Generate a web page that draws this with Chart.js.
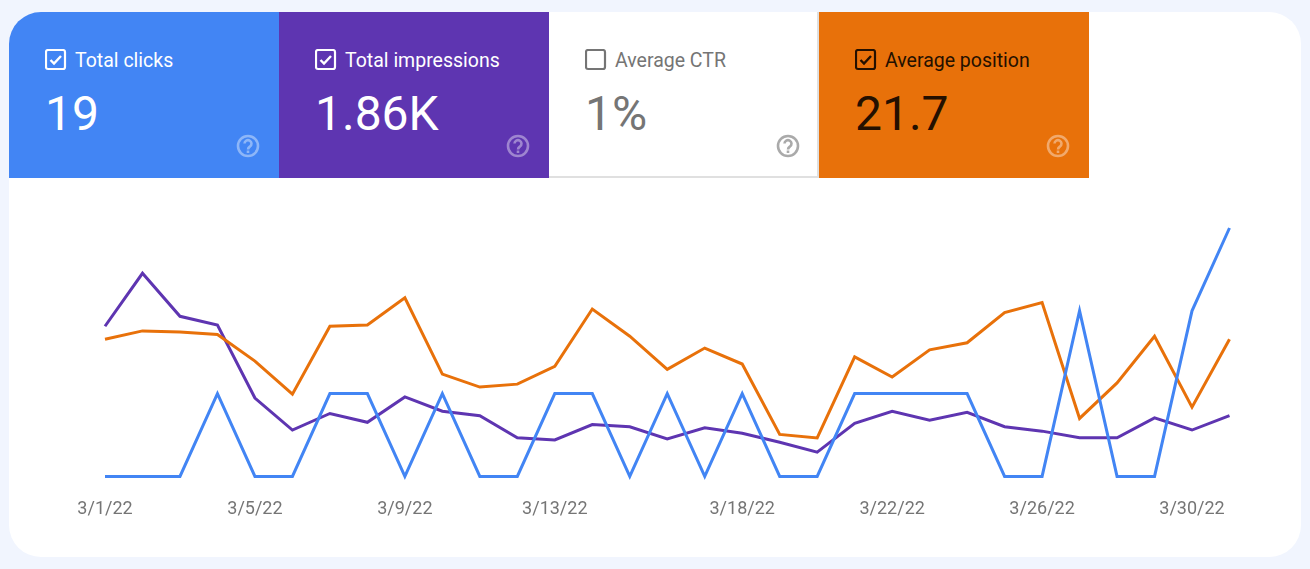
<!DOCTYPE html>
<html>
<head>
<meta charset="utf-8">
<script src="https://cdn.jsdelivr.net/npm/chart.js@4"></script>
<style>
  html, body { margin: 0; padding: 0; background: #f1f5fe; }
  body { width: 1310px; height: 569px; overflow: hidden; position: relative; font-family: Roboto, sans-serif; }
  .card { position: absolute; left: 9px; top: 12px; width: 1292px; height: 545px; background: #fff; border-radius: 32px; overflow: hidden; }
  .tile { position: absolute; top: 0; width: 270px; height: 166px; box-sizing: border-box; }
  .tile svg { position: absolute; display: block; }
  .tile .check { left: 36px; top: 37px; }
  .tile .help { left: 227px; top: 122px; }
  .tile .name { position: absolute; left: 66px; top: 37px; font-size: 19.5px; line-height: 24px; white-space: nowrap; }
  .tile .num { position: absolute; left: 36px; top: 74px; font-size: 48px; line-height: 56px; white-space: nowrap; }
  canvas { position: absolute; left: 0; top: 166px; }
</style>
</head>
<body>
<div class="card">
  <div class="tile" style="left:0;background:#4285f4;color:#fff">
    <svg class="check" width="22" height="22"><rect x="1" y="1" width="19" height="19" rx="2" fill="none" stroke="#fff" stroke-width="2.2"/><path d="M5.5 11l3.5 3.5 7-7.5" fill="none" stroke="#fff" stroke-width="2.4"/></svg>
    <div class="name">Total clicks</div><div class="num">19</div>
    <svg class="help" width="24" height="24"><circle cx="12" cy="12" r="10" fill="none" stroke="#fff" stroke-opacity=".4" stroke-width="2.6"/><path d="M8.5 9.5a3.5 3.5 0 1 1 5.5 3c-1.2.9-2 1.4-2 3M12 16.5v2.5" fill="none" stroke="#fff" stroke-opacity=".4" stroke-width="2.6"/></svg>
  </div>
  <div class="tile" style="left:270px;background:#5e35b1;color:#fff">
    <svg class="check" width="22" height="22"><rect x="1" y="1" width="19" height="19" rx="2" fill="none" stroke="#fff" stroke-width="2.2"/><path d="M5.5 11l3.5 3.5 7-7.5" fill="none" stroke="#fff" stroke-width="2.4"/></svg>
    <div class="name">Total impressions</div><div class="num">1.86K</div>
    <svg class="help" width="24" height="24"><circle cx="12" cy="12" r="10" fill="none" stroke="#fff" stroke-opacity=".4" stroke-width="2.6"/><path d="M8.5 9.5a3.5 3.5 0 1 1 5.5 3c-1.2.9-2 1.4-2 3M12 16.5v2.5" fill="none" stroke="#fff" stroke-opacity=".4" stroke-width="2.6"/></svg>
  </div>
  <div class="tile" style="left:540px;background:#fff;color:#757575;border-bottom:2px solid #e0e0e0;border-right:2px solid #e0e0e0">
    <svg class="check" width="22" height="22"><rect x="1" y="1" width="19" height="19" rx="2" fill="none" stroke="#757575" stroke-width="2.2"/></svg>
    <div class="name">Average CTR</div><div class="num">1%</div>
    <svg class="help" width="24" height="24"><circle cx="12" cy="12" r="10" fill="none" stroke="#aaa" stroke-width="2.6"/><path d="M8.5 9.5a3.5 3.5 0 1 1 5.5 3c-1.2.9-2 1.4-2 3M12 16.5v2.5" fill="none" stroke="#aaa" stroke-width="2.6"/></svg>
  </div>
  <div class="tile" style="left:810px;background:#e8710a;color:#241000">
    <svg class="check" width="22" height="22"><rect x="1" y="1" width="19" height="19" rx="2" fill="none" stroke="#241000" stroke-width="2.2"/><path d="M5.5 11l3.5 3.5 7-7.5" fill="none" stroke="#241000" stroke-width="2.4"/></svg>
    <div class="name">Average position</div><div class="num">21.7</div>
    <svg class="help" width="24" height="24"><circle cx="12" cy="12" r="10" fill="none" stroke="#fff" stroke-opacity=".4" stroke-width="2.6"/><path d="M8.5 9.5a3.5 3.5 0 1 1 5.5 3c-1.2.9-2 1.4-2 3M12 16.5v2.5" fill="none" stroke="#fff" stroke-opacity=".4" stroke-width="2.6"/></svg>
  </div>
  <canvas id="myChart" width="1292" height="379"></canvas>
</div>
<script>
// Data for chart
const dates = ['3/1/22','3/2/22','3/3/22','3/4/22','3/5/22','3/6/22','3/7/22','3/8/22','3/9/22','3/10/22',
  '3/11/22','3/12/22','3/13/22','3/14/22','3/15/22','3/16/22','3/17/22','3/18/22','3/19/22','3/20/22',
  '3/21/22','3/22/22','3/23/22','3/24/22','3/25/22','3/26/22','3/27/22','3/28/22','3/29/22','3/30/22','3/31/22'];
const tickDates = ['3/1/22','3/5/22','3/9/22','3/13/22','3/18/22','3/22/22','3/26/22','3/30/22'];

const clicks = [0,0,0,1,0,0,1,1,0,1,0,0,1,1,0,1,0,1,0,0,1,1,1,1,0,0,2,0,0,2,3];
const impressions = [136,184,145,137,71,42,57,49,72,59,55,35,33,47,45,34,44,39,31,22,48,59,51,58,45,41,35,35,53,42,55];
const position = [18.8,17.4,17.6,18.0,22.5,28.1,16.6,16.4,11.8,24.7,26.9,26.4,23.4,13.7,18.3,23.9,20.3,23.0,34.9,35.5,
  21.8,25.2,20.6,19.4,14.3,12.6,32.2,26.2,18.3,30.3,18.8];

const hiddenAxis = (min, max, reverse) => ({ display: false, min: min, max: max, reverse: reverse });

const myChart = new Chart(document.getElementById('myChart').getContext('2d'), {
  type: 'line',
  data: {
    labels: dates,
    datasets: [
      { label: 'Total clicks', data: clicks, borderColor: '#4285f4', yAxisID: 'yClicks' },
      { label: 'Average position', data: position, borderColor: '#e8710a', yAxisID: 'yPosition' },
      { label: 'Total impressions', data: impressions, borderColor: '#5e35b1', yAxisID: 'yImpressions' }
    ]
  },
  options: {
    responsive: false,
    animation: false,
    layout: { padding: { left: 96, right: 71.5, top: 50, bottom: 23 } },
    datasets: { line: { borderWidth: 3, pointRadius: 0, tension: 0, clip: false, borderJoinStyle: 'miter' } },
    plugins: { legend: { display: false }, tooltip: { enabled: false } },
    scales: {
      x: {
        offset: false,
        grid: { display: false },
        border: { display: false },
        ticks: {
          autoSkip: false,
          maxRotation: 0,
          padding: 14,
          color: '#757575',
          font: { family: 'Roboto', size: 18 },
          callback: function(value) {
            const label = this.getLabelForValue(value);
            return tickDates.includes(label) ? label : '';
          }
        }
      },
      yClicks: hiddenAxis(0, 3, false),
      yImpressions: hiddenAxis(0, 225, false),
      yPosition: hiddenAxis(0, 42, true)
    }
  }
});
</script>
</body>
</html>
